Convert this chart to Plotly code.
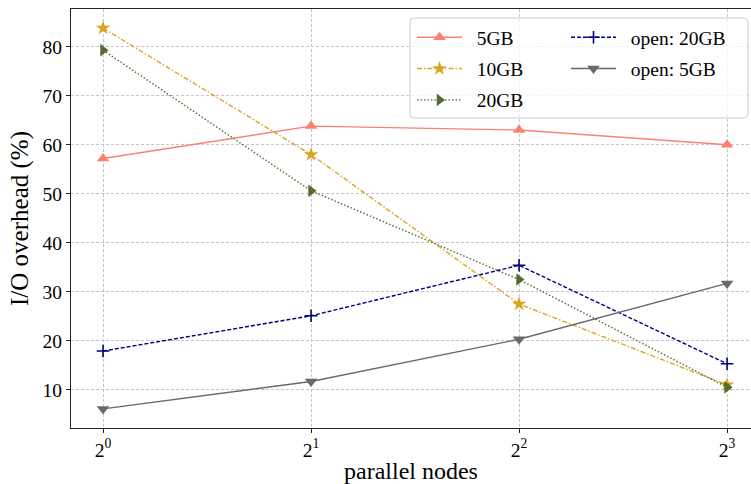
import plotly.graph_objects as go

nodes = [1, 2, 4, 8]
tick_labels = ["2<sup>0</sup>", "2<sup>1</sup>", "2<sup>2</sup>", "2<sup>3</sup>"]

gb5 = [57.2, 63.8, 63.0, 60.0]
gb10 = [83.8, 58.0, 27.5, 11.0]
gb20 = [79.3, 50.6, 32.5, 10.5]
open20 = [17.9, 25.1, 35.4, 15.3]
open5 = [6.1, 11.7, 20.3, 31.7]

series = [
    ("5GB", gb5, "#FA8072", "solid", "triangle-up", 11, "legend"),
    ("10GB", gb10, "#DAA520", "5px,2px,1.5px,2px", "star", 11, "legend"),
    ("20GB", gb20, "#556B2F", "1.5px,2px", "triangle-right", 11, "legend"),
    ("open: 20GB", open20, "#000080", "4px,2px", "cross-thin", 9, "legend2"),
    ("open: 5GB", open5, "#696969", "solid", "triangle-down", 11, "legend2"),
]

NB = "\u00a0\u00a0"
fig = go.Figure()
for name, vals, color, dash, sym, size, leg in series:
    fig.add_trace(go.Scatter(
        x=nodes, y=vals, name=NB + name, mode="lines+markers", legend=leg,
        legendgroup=name,
        line=dict(color=color, dash=dash, width=1.4),
        marker=dict(symbol=sym, size=size, color=color,
                    line=dict(color=color, width=1.6 if sym == "cross-thin" else 0)),
    ))

# plot area in pixels: left 71, right 751, top 9, bottom 428
PW, PH = 680.0, 419.0
def px(xp):
    return (xp - 71) / PW
def py(yp):
    return (428 - yp) / PH

# rounded legend frame
x0, x1, y0, y1 = px(410), px(748), py(118), py(18)
rx, ry = 4 / PW, 4 / PH
path = (f"M{x0+rx},{y1} L{x1-rx},{y1} Q{x1},{y1} {x1},{y1-ry} "
        f"L{x1},{y0+ry} Q{x1},{y0} {x1-rx},{y0} L{x0+rx},{y0} "
        f"Q{x0},{y0} {x0},{y0+ry} L{x0},{y1-ry} Q{x0},{y1} {x0+rx},{y1} Z")
fig.add_shape(type="path", path=path, xref="x domain", yref="y domain",
              fillcolor="rgba(255,255,255,0.8)", line=dict(color="#cccccc", width=1),
              layer="above")

leg_common = dict(
    orientation="v", yanchor="top", xanchor="left",
    bgcolor="rgba(0,0,0,0)", borderwidth=0,
    font=dict(size=19.5, family="Liberation Serif", color="black"),
    tracegroupgap=3, itemwidth=45, traceorder="grouped",
)

l2 = 0.30103
grid = dict(showgrid=True, gridcolor="#c4c4c4", griddash="3px,2px", gridwidth=0.8)
fig.update_layout(
    width=751, height=484,
    margin=dict(l=71, r=0, t=9, b=56),
    plot_bgcolor="white", paper_bgcolor="white",
    font=dict(family="Liberation Serif", size=19.5, color="black"),
    legend=dict(x=px(412), y=py(18), **leg_common),
    legend2=dict(x=px(566), y=py(18), **leg_common),
    xaxis=dict(
        type="log", range=[-0.154 * l2, 3.115 * l2],
        tickvals=nodes, ticktext=tick_labels, automargin=False,
        showline=True, linecolor="#222", linewidth=1.2, mirror=True,
        ticks="outside", ticklen=4, tickcolor="#222",
        tickfont=dict(size=19.5),
        title=dict(text="parallel nodes", font=dict(size=24), standoff=2),
        zeroline=False, **grid,
    ),
    yaxis=dict(
        range=[2.2, 87.7], tickvals=[10, 20, 30, 40, 50, 60, 70, 80],
        automargin=False,
        showline=True, linecolor="#222", linewidth=1.2, mirror=False,
        ticks="outside", ticklen=4, tickcolor="#222",
        tickfont=dict(size=19.5),
        title=dict(text="I/O overhead (%)", font=dict(size=25), standoff=6),
        zeroline=False, **grid,
    ),
)

fig.write_html("out.html", config={"displayModeBar": False},
               post_script="document.body.style.margin='0';document.body.style.overflow='hidden';")
